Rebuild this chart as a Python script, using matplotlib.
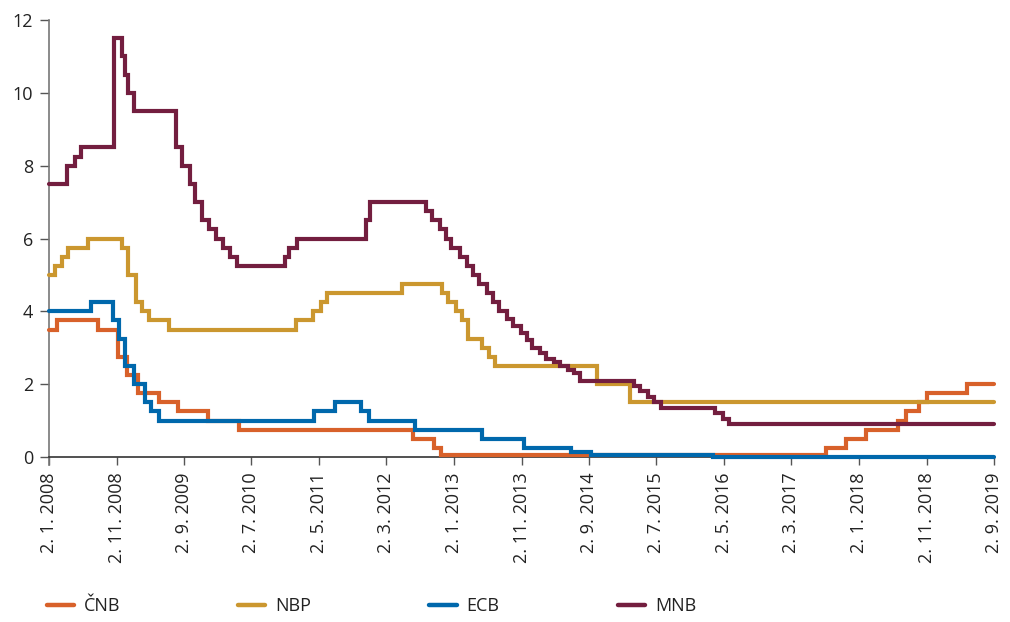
import matplotlib
matplotlib.use("Agg")
import matplotlib.pyplot as plt
import matplotlib.dates as mdates
import pandas as pd

plt.rcParams['font.family'] = ['Open Sans', 'DejaVu Sans']

END_DATE = "2019-09-02"

cnb_dates = ["2008-01-02", "2008-02-08", "2008-08-08", "2008-11-07", "2008-12-18",
             "2009-02-06", "2009-05-11", "2009-08-07", "2009-12-17", "2010-05-07",
             "2012-06-29", "2012-10-01", "2012-11-02", "2017-08-04", "2017-11-03",
             "2018-02-02", "2018-06-28", "2018-08-03", "2018-09-27", "2018-11-02",
             "2019-05-03"]
cnb_values = [3.5, 3.75, 3.5, 2.75, 2.25, 1.75, 1.5, 1.25, 1.0, 0.75,
              0.5, 0.25, 0.05, 0.25, 0.5, 0.75, 1.0, 1.25, 1.5, 1.75, 2.0]

nbp_dates = ["2008-01-02", "2008-01-31", "2008-02-28", "2008-03-27", "2008-06-26",
             "2008-11-27", "2008-12-24", "2009-01-28", "2009-02-26", "2009-03-26",
             "2009-06-25", "2011-01-20", "2011-04-06", "2011-05-12", "2011-06-09",
             "2012-05-10", "2012-11-08", "2012-12-06", "2013-01-10", "2013-02-07",
             "2013-03-07", "2013-05-09", "2013-06-06", "2013-07-04", "2014-10-09",
             "2015-03-05"]
nbp_values = [5.0, 5.25, 5.5, 5.75, 6.0, 5.75, 5.0, 4.25, 4.0, 3.75,
              3.5, 3.75, 4.0, 4.25, 4.5, 4.75, 4.5, 4.25, 4.0, 3.75,
              3.25, 3.0, 2.75, 2.5, 2.0, 1.5]

ecb_dates = ["2008-01-02", "2008-07-09", "2008-10-15", "2008-11-12", "2008-12-10",
             "2009-01-21", "2009-03-11", "2009-04-08", "2009-05-13", "2011-04-13",
             "2011-07-13", "2011-11-09", "2011-12-14", "2012-07-11", "2013-05-08",
             "2013-11-13", "2014-06-11", "2014-09-10", "2016-03-16"]
ecb_values = [4.0, 4.25, 3.75, 3.25, 2.5, 2.0, 1.5, 1.25, 1.0, 1.25,
              1.5, 1.25, 1.0, 0.75, 0.5, 0.25, 0.15, 0.05, 0.0]

mnb_dates = ["2008-01-02", "2008-03-25", "2008-04-29", "2008-05-27", "2008-10-22",
             "2008-11-25", "2008-12-09", "2008-12-23", "2009-01-20", "2009-07-28",
             "2009-08-25", "2009-09-29", "2009-10-20", "2009-11-24", "2009-12-22",
             "2010-01-26", "2010-02-23", "2010-03-30", "2010-04-27", "2010-11-30",
             "2010-12-21", "2011-01-25", "2011-11-30", "2011-12-21", "2012-08-29",
             "2012-09-26", "2012-10-31", "2012-11-28", "2012-12-19", "2013-01-30",
             "2013-02-27", "2013-03-27", "2013-04-24", "2013-05-29", "2013-06-26",
             "2013-07-24", "2013-08-28", "2013-09-25", "2013-10-30", "2013-11-27",
             "2013-12-18", "2014-01-22", "2014-02-19", "2014-03-26", "2014-04-23",
             "2014-05-28", "2014-06-25", "2014-07-23", "2015-03-25", "2015-04-22",
             "2015-05-27", "2015-06-24", "2015-07-22", "2016-03-23", "2016-04-27",
             "2016-05-25"]
mnb_values = [7.5, 8.0, 8.25, 8.5, 11.5, 11.0, 10.5, 10.0, 9.5, 8.5,
              8.0, 7.5, 7.0, 6.5, 6.25, 6.0, 5.75, 5.5, 5.25, 5.5,
              5.75, 6.0, 6.5, 7.0, 6.75, 6.5, 6.25, 6.0, 5.75, 5.5,
              5.25, 5.0, 4.75, 4.5, 4.25, 4.0, 3.8, 3.6, 3.4, 3.2,
              3.0, 2.85, 2.7, 2.6, 2.5, 2.4, 2.3, 2.1, 1.95, 1.8,
              1.65, 1.5, 1.35, 1.2, 1.05, 0.9]

tick_dates = ["2008-01-02", "2008-11-02", "2009-09-02", "2010-07-02", "2011-05-02",
              "2012-03-02", "2013-01-02", "2013-11-02", "2014-09-02", "2015-07-02",
              "2016-05-02", "2017-03-02", "2018-01-02", "2018-11-02", "2019-09-02"]
tick_labels = ["2. 1. 2008", "2. 11. 2008", "2. 9. 2009", "2. 7. 2010", "2. 5. 2011",
               "2. 3. 2012", "2. 1. 2013", "2. 11. 2013", "2. 9. 2014", "2. 7. 2015",
               "2. 5. 2016", "2. 3. 2017", "2. 1. 2018", "2. 11. 2018", "2. 9. 2019"]

series = [
    ("ČNB", cnb_dates, cnb_values, "#D8612A"),
    ("NBP", nbp_dates, nbp_values, "#CB972F"),
    ("ECB", ecb_dates, ecb_values, "#0068AC"),
    ("MNB", mnb_dates, mnb_values, "#731E3F"),
]

fig = plt.figure(figsize=(10.1, 6.22), dpi=100)
ax = fig.add_axes([49 / 1010, 1 - 457 / 622, (994 - 49) / 1010, (457 - 20) / 622])

for name, d, v, c in series:
    x = list(pd.to_datetime(d)) + [pd.Timestamp(END_DATE)]
    y = list(v) + [v[-1]]
    ax.step(x, y, where="post", color=c, lw=3.0, label=name,
            solid_joinstyle="miter", solid_capstyle="round",
            zorder=3, clip_on=False)

ax.set_xlim(pd.Timestamp("2008-01-02"), pd.Timestamp(END_DATE))
ax.set_ylim(0, 12)
ax.set_yticks([0, 2, 4, 6, 8, 10, 12])
ax.set_xticks(pd.to_datetime(tick_dates))
ax.set_xticklabels(tick_labels, rotation=90)

for s in ["top", "right"]:
    ax.spines[s].set_visible(False)
ax.spines["left"].set_color("#777777")
ax.spines["bottom"].set_color("#333333")
ax.spines["left"].set_linewidth(1.2)
ax.spines["bottom"].set_linewidth(1.2)
ax.plot([0, 0], [0, -0.019], transform=ax.transAxes, clip_on=False,
        color="#777777", lw=1.2)

ax.tick_params(axis="y", length=6.5, width=1.0, color="#555555", pad=5,
               labelsize=13, labelcolor="#222222")
ax.tick_params(axis="x", length=6, width=1.0, color="#555555", pad=5,
               labelsize=13, labelcolor="#222222")

leg = fig.legend(loc="center left", bbox_to_anchor=(0.03, 0.025), ncol=4,
                 frameon=False, fontsize=13, handlelength=1.5, handletextpad=0.55,
                 columnspacing=6.55)
for line in leg.get_lines():
    line.set_linewidth(3.2)
for t in leg.get_texts():
    t.set_color("#222222")

fig.savefig("out.png", dpi=100)
